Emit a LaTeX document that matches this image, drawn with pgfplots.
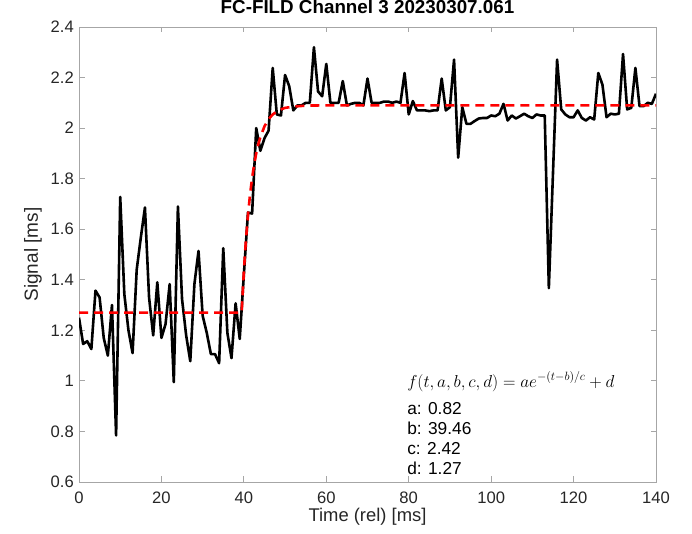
\documentclass[border=0pt]{standalone}
\usepackage{fontspec}
\setmainfont{Liberation Sans}
\usepackage{pgfplots}
\usepackage{pgfplotstable}
\pgfplotsset{compat=1.18}
\definecolor{axgray}{gray}{0.65}
\definecolor{txtgray}{gray}{0.15}

% measured signal, 1 ms steps
\pgfplotstableread{
t v
0 1.25
1 1.146
2 1.157
3 1.126
4 1.357
5 1.33
6 1.17
7 1.10
8 1.30
9 0.784
10 1.728
11 1.343
12 1.20
13 1.11
14 1.44
15 1.567
16 1.686
17 1.33
18 1.18
19 1.39
20 1.17
21 1.225
22 1.383
23 0.995
24 1.69
25 1.324
26 1.18
27 1.078
28 1.383
29 1.514
30 1.258
31 1.19
32 1.106
33 1.106
34 1.07
35 1.525
36 1.19
37 1.09
38 1.307
39 1.166
40 1.42
41 1.666
42 1.662
43 2.0
44 1.91
45 1.96
46 1.99
47 2.238
48 2.054
49 2.05
50 2.21
51 2.166
52 2.07
53 2.09
54 2.09
55 2.10
56 2.10
57 2.32
58 2.145
59 2.126
60 2.254
61 2.10
62 2.10
63 2.10
64 2.186
65 2.09
66 2.096
67 2.10
68 2.10
69 2.09
70 2.196
71 2.10
72 2.10
73 2.10
74 2.105
75 2.105
76 2.10
77 2.105
78 2.10
79 2.218
80 2.054
81 2.107
82 2.07
83 2.07
84 2.07
85 2.067
86 2.07
87 2.07
88 2.196
89 2.07
90 2.083
91 2.271
92 1.883
93 2.083
94 2.017
95 2.017
96 2.028
97 2.038
98 2.04
99 2.04
100 2.05
101 2.047
102 2.057
103 2.096
104 2.03
105 2.05
106 2.038
107 2.047
108 2.057
109 2.047
110 2.04
111 2.054
112 2.05
113 2.05
114 1.367
115 1.82
116 2.271
117 2.074
118 2.054
119 2.043
120 2.043
121 2.07
122 2.04
123 2.03
124 2.043
125 2.034
126 2.218
127 2.172
128 2.043
129 2.057
130 2.054
131 2.057
132 2.293
133 2.074
134 2.08
135 2.238
136 2.087
137 2.087
138 2.10
139 2.096
140 2.136
}\signal

% fitted curve, values read off
\pgfplotstableread{
t f
0 1.27
39.46 1.27
40 1.434
40.5 1.557
41 1.656
41.5 1.737
42 1.803
42.5 1.856
43 1.900
43.5 1.936
44 1.964
45 2.007
46 2.035
47 2.054
48 2.066
49 2.074
50 2.080
52 2.085
55 2.089
60 2.090
140 2.090
}\fitcurve

\begin{document}
\begin{tikzpicture}
\useasboundingbox (0,0) rectangle (692pt,534pt);
\begin{axis}[
  at={(79pt,52pt)}, anchor=south west,
  scale only axis, width=577pt, height=455pt,
  xmin=0, xmax=140, ymin=0.6, ymax=2.4,
  xtick={0,20,40,60,80,100,120,140},
  ytick={0.6,0.8,1,1.2,1.4,1.6,1.8,2,2.2,2.4},
  axis line style={axgray, line width=0.8pt},
  tick style={axgray, line width=0.8pt},
  major tick length=5.5pt,
  /pgf/number format/assume math mode=true,
  ticklabel style={font=\fontsize{16.6}{19}\selectfont, text=txtgray},
  xticklabel style={anchor=base, yshift=-22pt},
  yticklabel style={anchor=east, inner sep=0pt, xshift=-5pt},
  title={FC-FILD Channel 3 20230307.061},
  title style={font=\bfseries\fontsize{18.8}{22}\selectfont, at={(axis description cs:0.5,1)}, anchor=base, yshift=7pt},
  xlabel={Time (rel) [ms]},
  xlabel style={font=\fontsize{18.4}{21}\selectfont, text=txtgray, at={(axis description cs:0.5,-0.0879)}, anchor=base},
  ylabel={Signal [ms]},
  ylabel style={font=\fontsize{19}{21}\selectfont, text=txtgray, at={(axis description cs:-0.0797,0.5)}, anchor=center},
]
\addplot[black, line width=2.6pt, line join=round] table[x=t, y=v] {\signal};
\addplot[red, line width=2.6pt, dash pattern=on 9pt off 6pt] table[x=t, y=f] {\fitcurve};
\node[anchor=west, inner sep=0pt, font=\fontsize{17.1}{20}\selectfont] at (axis cs:79.6,0.997) {$f(t,a,b,c,d) = ae^{-(t-b)/c} + d$};
\node[anchor=west, inner sep=0pt, font=\fontsize{17.3}{20}\selectfont] at (axis cs:79.6,0.892) {a: 0.82};
\node[anchor=west, inner sep=0pt, font=\fontsize{17.3}{20}\selectfont] at (axis cs:79.6,0.812) {b: 39.46};
\node[anchor=west, inner sep=0pt, font=\fontsize{17.3}{20}\selectfont] at (axis cs:79.6,0.733) {c: 2.42};
\node[anchor=west, inner sep=0pt, font=\fontsize{17.3}{20}\selectfont] at (axis cs:79.6,0.654) {d: 1.27};
\end{axis}
\end{tikzpicture}
\end{document}
